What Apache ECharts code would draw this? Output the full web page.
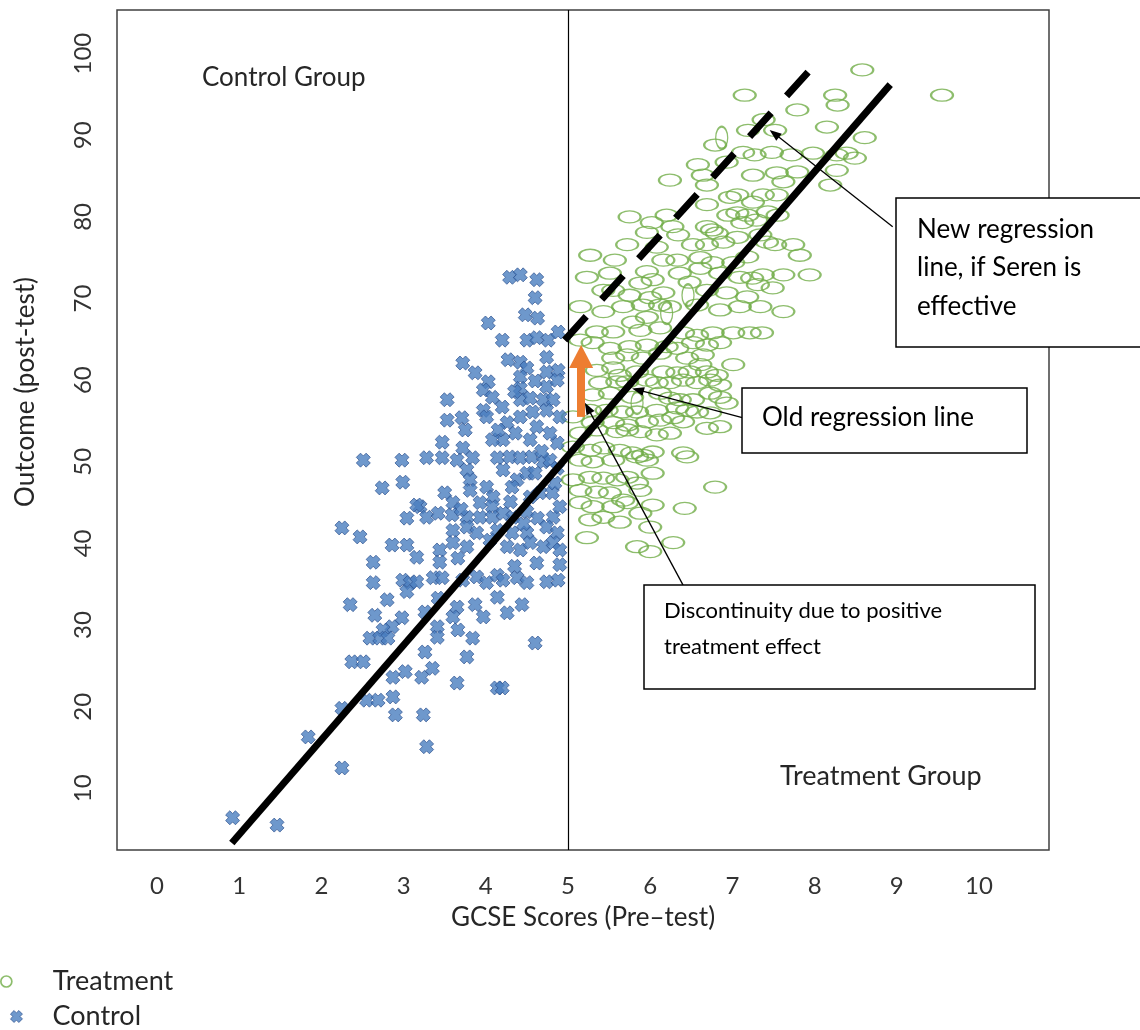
<!DOCTYPE html>
<html>
<head>
<meta charset="utf-8">
<script src="https://cdn.jsdelivr.net/npm/echarts@6/dist/echarts.min.js"></script>
<style>
html,body{margin:0;padding:0;background:#fff;}
#chart{width:1140px;height:1030px;}
</style>
</head>
<body>
<div id="chart"></div>
<script>
// ---- data (GCSE pre-test score, post-test outcome) ----
var xTicks = [0,1,2,3,4,5,6,7,8,9,10];
var yTicks = [10,20,30,40,50,60,70,80,90,100];
var cutoff = 5;

var controlPoints = [
[4.29,72.6],[4.42,72.9],[4.62,72.3],[4.60,70.1],[4.48,68.0],[4.63,67.6],[4.03,67.0],
[4.20,64.9],[4.50,64.9],[4.62,65.2],[4.76,64.9],[4.88,65.9],
[3.72,62.1],[4.27,62.5],[4.42,62.2],[4.50,61.5],[4.74,62.8],[4.74,61.0],[4.88,61.2],
[3.87,60.9],[4.03,59.8],[3.97,58.8],[4.42,60.4],[4.42,59.0],[4.74,59.2],[4.87,60.0],
[3.53,57.6],[4.08,57.9],[4.20,56.7],[4.42,57.6],[4.54,57.8],[4.70,57.6],[4.82,57.6],[4.90,55.5],[4.74,56.3],[4.57,56.1],
[3.53,55.1],[3.71,55.4],[3.75,53.9],[3.97,56.3],[4.01,55.5],
[4.26,54.8],[4.42,55.5],[4.62,54.3],[4.36,53.5],[4.21,52.7],[4.08,52.7],[4.54,52.7],[4.87,52.3],[4.78,53.5],
[3.47,52.4],[3.47,50.5],[3.28,50.5],[3.72,51.7],[3.65,50.2],[3.84,50.5],[3.77,49.0],[3.81,47.8],
[4.14,50.5],[4.29,50.6],[4.42,50.5],[4.56,50.6],[4.70,50.0],[4.78,50.2],
[4.21,49.0],[4.38,47.8],[4.50,48.6],[4.60,48.6],[4.87,49.2],
[3.50,46.2],[3.60,45.0],[3.81,46.5],[4.01,46.9],[4.09,45.7],[3.93,45.0],[4.08,44.5],
[4.32,46.9],[4.54,45.7],[4.66,46.2],[4.81,46.2],[4.84,47.4],
[3.20,44.5],[3.28,43.2],[3.42,43.7],[3.59,43.5],[3.77,43.2],[3.93,43.2],[4.08,43.2],[4.21,43.7],[4.33,43.2],[4.50,43.9],[4.63,43.1],[4.82,43.2],[4.90,44.5],
[3.60,41.6],[3.77,42.0],[3.89,41.3],[4.14,41.6],[4.32,41.3],[4.50,41.3],[4.74,42.0],[4.87,41.3],
[3.44,39.2],[3.60,40.1],[3.77,39.6],[4.26,39.6],[4.42,39.2],[4.54,40.1],[4.70,39.6],[4.82,40.1],[4.90,39.2],
[2.51,50.2],[2.98,50.2],[2.74,46.8],[2.99,47.5],[3.16,44.7],[2.25,41.9],[2.47,40.8],[3.04,43.1],[2.86,39.8],[3.04,39.8],
[3.16,38.3],[3.44,37.7],[3.66,38.2],[2.63,37.7],[2.63,35.2],[2.99,35.5],[3.08,35.2],[3.16,35.3],[3.04,34.1],[3.36,35.8],[3.47,35.8],
[3.72,35.5],[3.89,35.9],[4.01,35.2],[4.14,36.1],[4.21,35.5],[4.38,35.8],[4.50,35.2],[4.74,35.3],[4.88,35.5],[4.90,37.4],
[2.35,32.5],[2.80,33.1],[2.65,31.2],[2.98,30.9],[2.86,29.8],[2.75,29.4],[2.59,28.4],[2.71,28.4],[2.81,28.4],
[3.26,31.6],[3.42,33.3],[3.41,29.8],[3.41,28.5],[3.65,32.2],[3.87,32.5],[3.60,31.0],[3.97,31.0],[3.66,29.4],[3.84,28.4],
[4.14,33.4],[4.26,31.5],[4.44,32.5],[4.60,27.8],
[2.37,25.5],[2.51,25.5],[3.26,26.7],[3.77,26.1],[3.02,24.3],[2.87,23.6],[3.22,23.6],[3.35,24.7],[3.65,22.9],[4.14,22.3],[4.20,22.3],
[2.25,19.8],[2.55,20.8],[2.69,20.8],[2.87,21.2],[2.90,19.0],[3.24,19.0],[1.84,16.3],[3.28,15.1],[2.25,12.5],[0.92,6.4],[1.46,5.5],
[4.35,58.6],[4.60,59.9],[4.15,53.9],[4.68,51.3],[4.30,45.1],[4.46,42.4],[4.05,40.4],[3.70,44.2],[4.62,37.6],[4.35,37.2]
];

var treatmentPoints = [
[7.15,94.9],[7.19,90.6],[6.79,88.8],[7.13,87.9],[7.27,87.6],[6.93,86.7],[6.58,86.4],[6.64,85.1],[6.69,83.9],[6.24,84.5],[7.25,85.1],
[6.97,82.4],[7.06,82.7],[6.69,81.5],[7.25,81.8],[5.75,80.0],[6.20,80.2],[6.02,79.3],[7.06,80.5],[7.18,80.2],[6.95,80.2],[7.12,79.3],
[6.27,78.8],[6.34,77.8],[6.69,78.8],[6.75,78.4],[6.81,78.0],[5.96,78.1],[6.52,76.6],[6.69,76.6],[6.89,76.9],[5.72,76.6],[7.06,77.5],
[5.27,75.3],[5.57,74.7],[6.08,76.3],[6.16,74.7],[6.33,74.7],[6.61,75.0],[6.76,74.4],[7.01,74.4],[7.18,75.1],
[5.23,72.6],[5.51,73.1],[5.96,73.3],[6.03,72.3],[5.88,71.9],[6.36,73.1],[6.61,73.7],[6.48,72.0],[6.85,73.1],[7.09,72.6],[7.24,72.5],
[5.43,71.0],[5.55,71.0],[5.75,70.4],[6.00,70.1],[6.16,70.7],[6.69,71.0],[6.93,70.7],[7.18,70.2],[6.12,69.2],
[8.58,98.0],[8.25,94.9],[8.28,93.7],[9.55,94.9],[7.79,93.1],[7.38,91.9],[8.15,91.0],[7.52,90.6],[8.61,89.7],
[7.48,87.9],[7.72,87.6],[7.98,87.8],[8.27,87.6],[8.39,87.8],[8.49,87.2],[7.54,85.4],[7.79,85.5],[7.62,84.3],[8.27,85.7],[8.19,83.9],
[7.37,82.7],[7.54,82.7],[7.43,80.6],[7.29,79.6],[7.55,80.2],[7.34,77.8],[7.42,76.9],[7.52,76.6],[7.74,76.6],[7.82,75.3],
[7.37,72.9],[7.62,72.9],[7.94,72.9],[7.31,71.7],[7.49,71.3],[7.62,68.4],
[5.15,69.0],[5.43,68.4],[5.67,69.0],[5.91,69.2],[6.24,69.0],[6.57,69.2],[6.85,68.6],[7.09,69.0],[7.34,69.0],[5.79,67.1],[5.96,67.7],
[5.35,65.9],[5.55,65.9],[5.88,66.1],[6.12,66.4],[6.40,65.8],[6.57,65.5],[6.76,65.8],[7.01,65.8],[7.21,65.8],[7.36,65.8],
[5.15,64.9],[5.30,64.6],[5.51,63.9],[5.75,64.1],[5.96,64.3],[6.20,64.1],[6.33,63.9],[6.52,64.6],[6.69,64.3],[6.85,64.6],
[5.55,62.7],[5.72,63.1],[5.91,62.7],[6.12,63.3],[6.45,62.7],[6.64,63.1],[6.61,61.9],
[5.35,61.2],[5.55,61.5],[5.63,60.6],[5.84,61.0],[6.16,61.0],[6.33,60.9],[6.48,61.0],[6.69,61.0],[6.81,60.6],[7.01,61.9],
[5.39,59.7],[5.60,59.8],[5.72,59.8],[5.96,60.0],[6.08,59.7],[6.24,59.7],[6.40,60.0],[6.57,59.7],[6.73,60.0],[6.85,59.4],
[5.30,58.2],[5.51,58.4],[5.78,57.9],[6.12,58.4],[6.24,57.8],[6.36,57.6],[6.52,57.6],[6.73,58.4],[6.85,57.9],[6.93,57.2],
[5.27,56.3],[5.47,56.3],[5.66,56.1],[5.84,56.1],[6.08,56.3],[6.33,56.6],[6.45,56.3],[6.57,56.1],[6.73,56.0],
[5.06,55.5],[5.30,54.8],[5.55,54.8],[5.72,54.5],[5.96,54.9],[6.12,55.1],[6.28,55.4],[6.40,54.9],[6.69,54.1],[6.85,54.3],
[5.15,53.5],[5.35,53.9],[5.60,53.7],[5.72,53.9],[5.88,53.7],[6.08,53.3],[6.24,53.5],
[5.06,51.8],[5.27,51.4],[5.43,51.7],[5.63,51.4],[5.78,51.1],[5.91,50.8],[6.03,51.2],[6.40,51.1],[6.45,50.6],
[5.15,50.2],[5.30,50.0],[5.55,50.2],[5.84,50.6],[5.96,50.2],[6.03,48.6],
[5.06,47.8],[5.27,48.1],[5.43,48.0],[5.60,47.8],[5.72,48.1],[5.84,47.4],[6.79,46.9],
[5.15,46.5],[5.35,46.3],[5.51,46.2],[5.67,45.3],[5.88,46.5],[5.15,45.0],[5.30,44.5],[5.55,44.5],[5.72,45.0],[6.03,44.7],[6.42,44.3],
[5.27,42.9],[5.43,43.2],[5.63,42.6],[5.88,43.7],[6.00,42.0],[5.23,40.7],[5.84,39.6],[6.00,39.0],[6.28,40.1]
];
// a few treatment ellipses drawn upright in the original
var treatmentUpright = [[6.87,89.7],[6.46,70.4],[5.84,57.2],[6.20,68.2]];

// regression lines
var oldLine = [[0.91,3.3],[8.92,96.2]];
var newLine = [[4.96,64.9],[8.00,98.6]];
// treatment-effect jump arrow (from, to)
var jumpArrow = [[5.16,55.5],[5.16,62.9]];
// callout arrows (tail, head)
var arrowNew = [[8.95,78.8],[7.51,90.2]];
var arrowOld = [[7.12,55.4],[5.85,58.8]];
var arrowJump = [[6.40,34.9],[5.24,56.6]];

// ---- chart ----
var FONT = 'Lato';
var ellipsePath = 'path://M0,1C0,0.4477 0.4477,0 1,0C1.5523,0 2,0.4477 2,1C2,1.5523 1.5523,2 1,2C0.4477,2 0,1.5523 0,1Z';
var crossPath = 'path://M3,0L5,2L7,0L10,3L8,5L10,7L7,10L5,8L3,10L0,7L2,5L0,3Z';
var green = '#70ad47';
var treatStyle = {color:'rgba(255,255,255,0)', borderColor:green, borderWidth:1.7};
var ctrlStyle = {color:'#4a7ebf', borderColor:'#2e528f', borderWidth:0.9};

function arrowML(pair, width, color, size){
  return {
    silent:true, animation:false,
    symbol:['none','triangle'], symbolSize:size,
    label:{show:false},
    lineStyle:{color:color, width:width, type:'solid'},
    emphasis:{disabled:true},
    data:[[{coord:pair[0]},{coord:pair[1]}]]
  };
}

var chart = echarts.init(document.getElementById('chart'), null, {renderer:'canvas'});
var option = {
  animation:false,
  backgroundColor:'#fff',
  textStyle:{fontFamily:FONT},
  grid:{left:117, top:10, width:932, height:840, show:true, borderColor:'#404040', borderWidth:1.5, backgroundColor:'rgba(0,0,0,0)'},
  xAxis:{
    type:'value', min:-0.4866, max:10.8516,
    axisLine:{show:false}, axisTick:{show:false}, splitLine:{show:false},
    axisLabel:{customValues:xTicks, fontSize:24, color:'#333', margin:24, fontFamily:FONT},
    name:'GCSE Scores (Pre\u2013test)', nameLocation:'middle', nameGap:55,
    nameTextStyle:{fontSize:26, color:'#262626', fontFamily:FONT}
  },
  yAxis:{
    type:'value', min:2.4498, max:105.34,
    axisLine:{show:false}, axisTick:{show:false}, splitLine:{show:false},
    axisLabel:{customValues:yTicks, fontSize:24, color:'#333', margin:22, rotate:90, fontFamily:FONT},
    name:'Outcome (post-test)', nameLocation:'middle', nameGap:78,
    nameTextStyle:{fontSize:26, color:'#262626', fontFamily:FONT, padding:[0,0,0,76]}
  },
  legend:[
    {data:[{name:'Treatment', icon:ellipsePath, itemStyle:treatStyle}], orient:'vertical', left:0, top:968, padding:0,
     itemWidth:11, itemHeight:16, selectedMode:false,
     textStyle:{fontSize:27, color:'#262626', fontFamily:FONT, padding:[0,0,0,36]}},
    {data:[{name:'Control', icon:crossPath, itemStyle:ctrlStyle}], orient:'vertical', left:10, top:1003, padding:0,
     itemWidth:12, itemHeight:12, selectedMode:false,
     textStyle:{fontSize:27, color:'#262626', fontFamily:FONT, padding:[0,0,0,25]}}
  ],
  series:[
    {name:'Treatment', type:'scatter', data:treatmentPoints, symbol:ellipsePath, symbolSize:[22,12], itemStyle:treatStyle, silent:true, z:2},
    {name:'Treatment', type:'scatter', data:treatmentUpright, symbol:ellipsePath, symbolSize:[12,22], itemStyle:treatStyle, silent:true, z:2},
    {name:'Control', type:'scatter', data:controlPoints, symbol:crossPath, symbolSize:14, itemStyle:ctrlStyle, silent:true, z:3},
    {type:'line', data:[], silent:true, z:4,
     markLine:{silent:true, animation:false, symbol:['none','none'], label:{show:false},
       lineStyle:{color:'#000', width:1.2, type:'solid'}, emphasis:{disabled:true},
       data:[{xAxis:cutoff}]}},
    {type:'line', data:oldLine, symbol:'none', silent:true, z:5, lineStyle:{color:'#000', width:7, cap:'butt'}},
    {type:'line', data:newLine, symbol:'none', silent:true, z:5, lineStyle:{color:'#000', width:7, type:[32,23], cap:'butt'}},
    {type:'line', data:[], silent:true, z:6, markLine:arrowML(jumpArrow, 8, '#ed7d31', [24,23])},
    {type:'line', data:[], silent:true, z:6, markLine:arrowML(arrowNew, 1.3, '#000', [9,12])},
    {type:'line', data:[], silent:true, z:6, markLine:arrowML(arrowOld, 1.3, '#000', [9,12])},
    {type:'line', data:[], silent:true, z:6, markLine:arrowML(arrowJump, 1.3, '#000', [9,12])}
  ],
  graphic:[
    {type:'text', z:100, style:{text:'Control Group', x:202, y:78, font:'26px '+FONT, fill:'#262626', verticalAlign:'middle', align:'left'}},
    {type:'text', z:100, style:{text:'Treatment Group', x:780, y:776, font:'27px '+FONT, fill:'#262626', verticalAlign:'middle', align:'left'}},
    {type:'rect', z:100, shape:{x:896, y:198, width:260, height:149}, style:{fill:'#fff', stroke:'#000', lineWidth:1.5}},
    {type:'text', z:101, style:{text:'New regression\nline, if Seren is\neffective', x:917, y:210, font:'26px '+FONT, lineHeight:38.5, fill:'#000', verticalAlign:'top', align:'left'}},
    {type:'rect', z:100, shape:{x:742, y:388, width:285, height:65}, style:{fill:'#fff', stroke:'#000', lineWidth:1.5}},
    {type:'text', z:101, style:{text:'Old regression line', x:762, y:418, font:'26px '+FONT, fill:'#000', verticalAlign:'middle', align:'left'}},
    {type:'rect', z:100, shape:{x:644, y:585, width:391, height:104}, style:{fill:'#fff', stroke:'#000', lineWidth:1.5}},
    {type:'text', z:101, style:{text:'Discontinuity due to positive\ntreatment effect', x:664, y:593, font:'22px '+FONT, lineHeight:36, fill:'#000', verticalAlign:'top', align:'left'}}
  ]
};
chart.setOption(option);
</script>
</body>
</html>
